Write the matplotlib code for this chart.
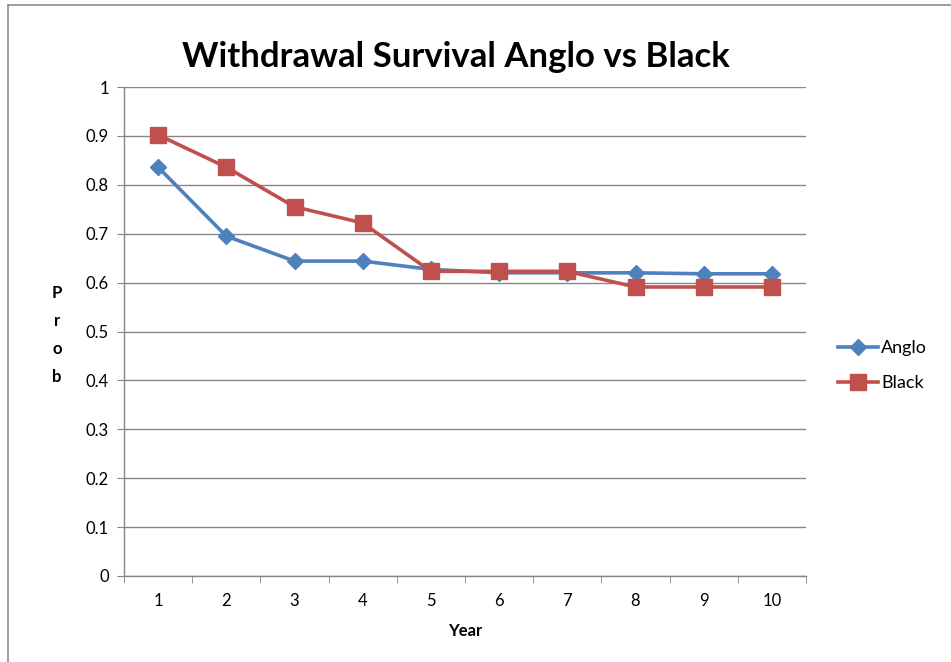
import matplotlib
matplotlib.use("Agg")
import matplotlib.pyplot as plt
from matplotlib.lines import Line2D

years = [1, 2, 3, 4, 5, 6, 7, 8, 9, 10]
anglo = [0.836, 0.695, 0.644, 0.644, 0.627, 0.620, 0.620, 0.620, 0.618, 0.618]
black = [0.902, 0.836, 0.755, 0.722, 0.623, 0.623, 0.623, 0.591, 0.591, 0.591]
y_ticks = [0, 0.1, 0.2, 0.3, 0.4, 0.5, 0.6, 0.7, 0.8, 0.9, 1]
y_tick_labels = ["0", "0.1", "0.2", "0.3", "0.4", "0.5", "0.6", "0.7", "0.8", "0.9", "1"]

FONT = "Lato"
GRID = "#868686"
BLUE = "#4F81BD"
RED = "#C0504D"

plt.rcParams["font.family"] = [FONT, "DejaVu Sans"]

fig = plt.figure(figsize=(9.51, 6.62), dpi=100)
ax = fig.add_axes([124 / 951, 1 - 576 / 662, (806 - 124) / 951, (576 - 87) / 662])

ax.plot(years, anglo, color=BLUE, lw=2.6, marker="D", ms=8.5, label="Anglo", zorder=3)
ax.plot(years, black, color=RED, lw=2.6, marker="s", ms=11, label="Black", zorder=4)

ax.set_xlim(0.5, 10.5)
ax.set_ylim(0, 1)
ax.set_yticks(y_ticks)
ax.set_yticklabels(y_tick_labels)
ax.set_xticks(years)
ax.set_xticklabels([str(y) for y in years])
ax.set_xticks([y + 0.5 for y in [0] + years], minor=True)
ax.tick_params(axis="x", which="major", length=0, pad=12, labelsize=12)
ax.tick_params(axis="x", which="minor", length=5, color=GRID, direction="out")
ax.tick_params(axis="y", length=5, color=GRID, direction="out", labelsize=12, pad=6)

ax.yaxis.grid(True, color=GRID, lw=1.0)
ax.set_axisbelow(True)
for side in ["top", "right"]:
    ax.spines[side].set_visible(False)
for side in ["left", "bottom"]:
    ax.spines[side].set_color(GRID)
    ax.spines[side].set_linewidth(1.0)

ax.set_xlabel("Year", fontsize=12, fontweight="bold", labelpad=10)

# vertically stacked axis title
for i, ch in enumerate("Prob"):
    fig.text(57 / 951, 1 - (293 + i * 28) / 662, ch, fontsize=12, fontweight="bold",
             ha="center", va="center")

fig.text(456 / 951, 1 - 57 / 662, "Withdrawal Survival Anglo vs Black", fontsize=25,
         fontweight="bold", ha="center", va="center")

ax.legend(loc="center left", bbox_to_anchor=(1.023, 0.43), frameon=False, fontsize=13,
          handlelength=2.2, handletextpad=0.2, labelspacing=1.05)

# chart frame
fig.add_artist(Line2D([8 / 951, 8 / 951], [0, 1 - 5 / 662], color="#8c8c8c", lw=1.2,
                      transform=fig.transFigure))
fig.add_artist(Line2D([8 / 951, 1], [1 - 5 / 662, 1 - 5 / 662], color="#8c8c8c", lw=1.2,
                      transform=fig.transFigure))

fig.savefig("out.png", dpi=100)
